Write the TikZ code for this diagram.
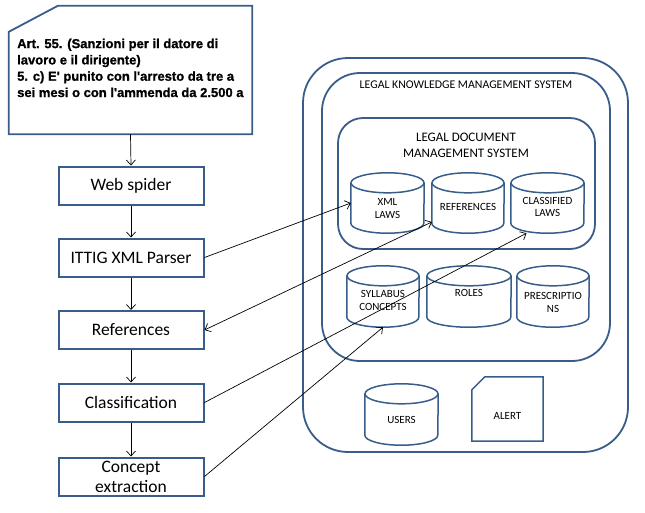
\documentclass[tikz,border=0pt]{standalone}
\usepackage{fontspec}
\setmainfont{Carlito}
\newfontfamily\arialfont[FakeBold=1]{Liberation Sans Bold}
\usetikzlibrary{calc,arrows.meta}
\definecolor{bord}{RGB}{56,93,138}
\newcommand\cylnode[7]{%
  \node[inner sep=0pt, minimum width=#4pt, minimum height=#5pt] (#1) at (#2,#3) {};
  \draw[cylline] ($(#1.north west)+(0,10)$) -- ($(#1.south west)+(0,-10)$)
     arc[start angle=180, end angle=0, x radius=#4/2, y radius=10]
     -- ($(#1.north east)+(0,10)$);
  \draw[cylline] ($(#1.north)+(0,10)$) ellipse[x radius=#4/2, y radius=10];
  \node[cyltext] (#1-text) at ([yshift=-#7pt]#1.center) {#6};
}
\begin{document}
\begin{tikzpicture}[x=1pt,y=-1pt,
  box/.style={draw=bord, line width=2pt, minimum width=145pt, minimum height=38pt, inner sep=0pt,
    font=\fontsize{17.5}{20}\selectfont, align=center},
  cont/.style={draw=bord, line width=1.8pt, inner sep=0pt},
  cylline/.style={draw=bord, line width=1.5pt},
  cyltext/.style={font=\fontsize{11}{12.5}\selectfont, align=center, inner sep=0pt},
  barb/.tip={Straight Barb[length=5pt,width=9pt,line width=0.7pt]},
  conn/.style={black, line width=0.7pt, -barb},
]
\useasboundingbox (0,0) rectangle (645,512);

% note
\node[inner sep=0pt, minimum width=243pt, minimum height=128pt] (note) at (130.5,70) {};
\draw[cont] ($(note.north west)+(0,26)$) -- ($(note.north west)+(49,0)$) -- (note.north east)
  -- (note.south east) -- (note.south west) -- cycle;
\node[anchor=north west, font=\arialfont\fontsize{13}{16.3}\selectfont, align=left, inner sep=0pt]
  (notetext) at (17,38.5) {Art. 55. (Sanzioni per il datore di\\lavoro e il dirigente)\\5. c) E' punito con l'arresto da tre a\\sei mesi o con l'ammenda da 2.500 a};

% left boxes
\node[box] (web) at (131,185.5) {Web spider};
\node[box] (ittig) at (131,257.5) {ITTIG XML Parser};
\node[box] (refbox) at (131,330) {References};
\node[box] (classbox) at (131,402.5) {Classification};
\node[box] (concept) at (131,476.5) {Concept\\extraction};

% containers
\node[cont, rounded corners=45pt, minimum width=325pt, minimum height=394pt] (outer) at (465.5,255) {};
\node[cont, rounded corners=38pt, minimum width=288pt, minimum height=288pt] (lkms) at (466,217) {};
\node[cont, rounded corners=25pt, minimum width=257pt, minimum height=131pt] (ldms) at (466.5,183.5) {};
\node[font=\fontsize{11.8}{13}\selectfont] (lkmstitle) at (466,85) {LEGAL KNOWLEDGE MANAGEMENT SYSTEM};
\node[font=\fontsize{13}{16}\selectfont, align=center] (ldmstitle) at (466,145) {LEGAL DOCUMENT\\MANAGEMENT SYSTEM};

% cylinders
\cylnode{xml}{387.5}{203}{73}{60}{XML\\LAWS}{5.5}
\cylnode{refc}{468}{203}{72}{60}{REFERENCES}{4}
\cylnode{clas}{547.5}{203}{73}{60}{CLASSIFIED\\LAWS}{4}
\cylnode{syl}{383}{296.5}{72}{61}{SYLLABUS\\CONCEPTS}{4}
\cylnode{roles}{469}{296.5}{84}{61}{ROLES}{-3.5}
\cylnode{presc}{553}{296.5}{72}{61}{PRESCRIPTIO\\NS}{6}
\cylnode{users}{401.5}{414.5}{73}{61}{USERS}{5.5}

% alert
\node[inner sep=0pt, minimum width=71pt, minimum height=64pt] (alert) at (507.5,409) {};
\draw[cylline] ($(alert.north west)+(0,13)$) -- ($(alert.north west)+(13,0)$) -- (alert.north east)
  -- (alert.south east) -- (alert.south west) -- cycle;
\node[cyltext] (alerttext) at ([yshift=-7pt]alert.center) {ALERT};

% connectors
\draw[conn] (note.south) -- (web.north);
\draw[conn] (web.south) -- (ittig.north);
\draw[conn] (ittig.south) -- (refbox.north);
\draw[conn] (refbox.south) -- (classbox.north);
\draw[conn] (classbox.south) -- (concept.north);
\draw[conn] (ittig.east) -- (xml.west);
\draw[conn, barb-barb] (refbox.east) -- ([yshift=-19pt]refc.west);
\draw[conn] (classbox.east) -- ([xshift=-21pt]clas.south);
\draw[conn] (concept.east) -- (syl.south);
\end{tikzpicture}
\end{document}
